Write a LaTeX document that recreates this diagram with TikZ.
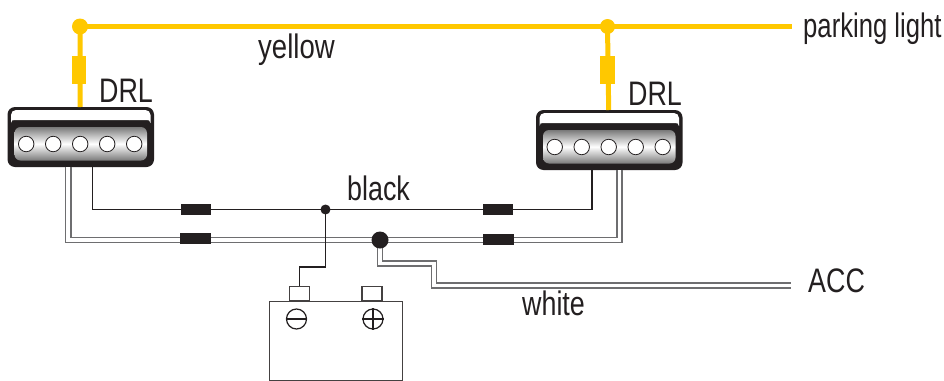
\documentclass[tikz,border=0pt]{standalone}
\usepackage{fontspec}
\setmainfont[FakeStretch=0.79]{Liberation Sans}
\newfontfamily\narrowfont[FakeStretch=0.755]{Liberation Sans}
\newfontfamily\widefont[FakeStretch=0.81]{Liberation Sans}
\definecolor{wireyellow}{HTML}{FFC800}
\definecolor{ink}{HTML}{231F20}
\definecolor{wiregray}{HTML}{6E6E70}
\tikzset{
  ywire/.style={draw=wireyellow,line width=5},
  kwire/.style={draw=ink,line width=1.9},
  wwire/.style={draw=wiregray,line width=1.5,double=white,double distance=3.8},
  thin box/.style={draw=ink!85,line width=1.1,fill=white},
  fuseK/.style={fill=ink,draw=none,inner sep=0,minimum width=30.5,minimum height=11},
  fuseY/.style={fill=wireyellow,draw=none,inner sep=0,minimum width=14.5,minimum height=28},
  pin/.style={circle,draw=ink,line width=0.8,fill=white,inner sep=0,minimum size=15.5},
  lbl/.style={inner sep=0,font=\fontsize{34}{34}\selectfont,text=ink,anchor=base west},
  sym/.style={circle,draw=ink,line width=1.2,inner sep=0,minimum size=20}
}
\newcommand{\drlbody}[5]{% x, y, name, black wire offset, white wire offset
  \begin{scope}[shift={(#1,#2)}]
    \fill[ink] (0,0) [rounded corners=7.5] rectangle (146.5,60);
    \fill[white] (3.5,16) -- (3.5,10) [rounded corners=5] -- (3.5,3) -- (143,3) [sharp corners] -- (143,10) -- (143,16) .. controls (143,13) and (141,13) .. (138,13) -- (8,13) .. controls (5,13) and (3.5,13) .. (3.5,16) -- cycle;
    \shade[rounded corners=6,top color=black!52,bottom color=black!52,middle color=white] (7,20) rectangle (139.5,53.5);
    \node[pin] (#3a) at (18.7,37) {};
    \node[pin] (#3b) at (45.7,37) {};
    \node[pin] (#3c) at (72.7,37) {};
    \node[pin] (#3d) at (99.7,37) {};
    \node[pin] (#3e) at (126.7,37) {};
    \coordinate (#3top) at (72.7,0);
    \coordinate (#3kw) at (#4,60);
    \coordinate (#3ww) at (#5,60);
  \end{scope}
}
\begin{document}
\begin{tikzpicture}[x=1pt,y=-1pt]
\useasboundingbox[fill=white] (0,0) rectangle (944,380);
% junction coordinates
\coordinate (yL) at (80,26.5);
\coordinate (yR) at (607.5,26.5);
\coordinate (yEnd) at (791.5,26.5);
\coordinate (kJ) at (325.5,209.5);
\coordinate (wJ) at (380,240);
\coordinate (wEnd) at (791,285.5);
% connectors
\drlbody{7.5}{107}{L}{85}{60.7}
\drlbody{536}{110}{R}{56}{83.5}
% yellow wires
\draw[ywire] (yL) -- (yEnd);
\draw[ywire] (yL) -- (Ltop);
\draw[ywire] (yR) -- (Rtop);
\fill[wireyellow] (yL) circle (8);
\fill[wireyellow] (yR) circle (7.5);
\node[fuseY] (fyL) at (79,70) {};
\node[fuseY] (fyR) at (607.5,70) {};
% black wire
\draw[kwire] (Lkw) |- (kJ) -| (Rkw);
% white wires
\draw[wwire] (Lww) |- (wJ) -| (Rww);
\draw[wwire] (wJ) |- (434,263.5) |- (wEnd);
\draw[kwire] (kJ) -- (325.5,267) -- (299.5,267) -- (299.5,287);
% fuses
\node[fuseK] (fk1) at (196,209.5) {};
\node[fuseK] (fk2) at (498,209.5) {};
\node[fuseK] (fw1) at (195.5,238.5) {};
\node[fuseK] (fw2) at (498.5,239.5) {};
\fill[ink] (kJ) circle (5);
\fill[ink] (wJ) circle (8.5);
% battery
\node[thin box,inner sep=0,minimum width=20,minimum height=14.5] (tm) at (299.5,293.5) {};
\node[thin box,inner sep=0,minimum width=20,minimum height=14.5] (tp) at (372,293.5) {};
\node[thin box,inner sep=0,minimum width=133,minimum height=79,anchor=north west] (bat) at (269,301) {};
\node[sym] (minus) at (296.5,319) {};
\node[sym] (plus) at (373,319) {};
\draw[ink,line width=1.2] (minus.west) -- (minus.east);
\draw[ink,line width=1.2] (plus.west) -- (plus.east);
\draw[ink,line width=1.2] (plus.north) -- (plus.south);
% labels
\node[lbl,font=\fontsize{34}{34}\selectfont\narrowfont] (t1) at (803,37) {parking light};
\node[lbl,font=\fontsize{34}{34}\selectfont\widefont] (t2) at (258,58) {yellow};
\node[lbl] (t3) at (99,102) {DRL};
\node[lbl] (t4) at (628,105) {DRL};
\node[lbl] (t5) at (347,200) {black};
\node[lbl] (t6) at (808,292) {ACC};
\node[lbl] (t7) at (522,315) {white};
\end{tikzpicture}
\end{document}
